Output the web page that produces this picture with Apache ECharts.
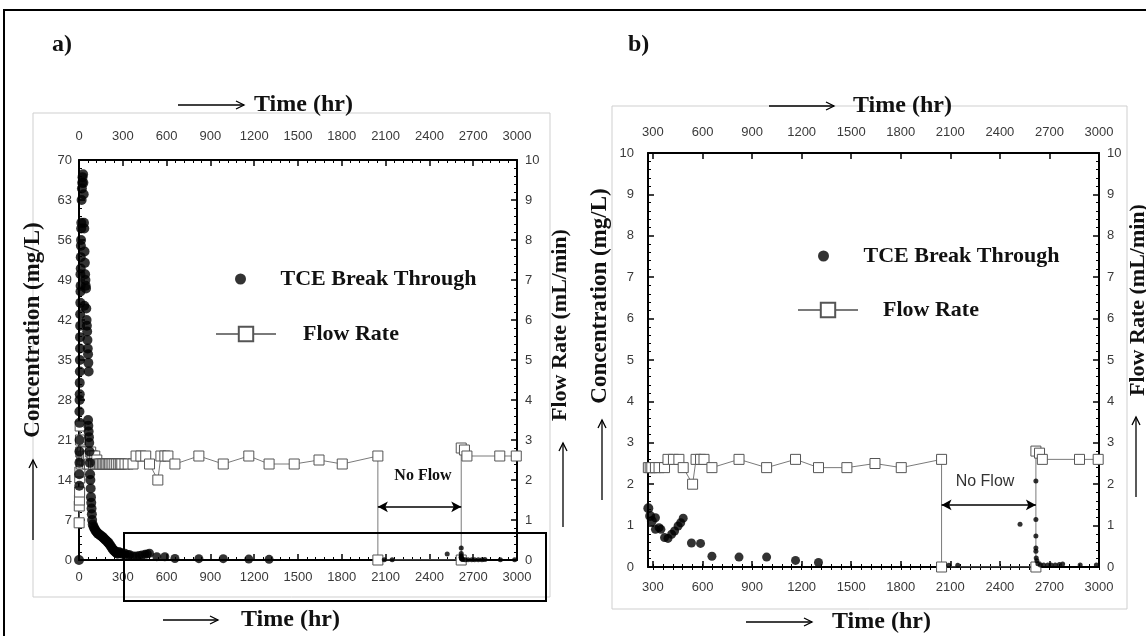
<!DOCTYPE html>
<html><head><meta charset="utf-8">
<script src="https://cdn.jsdelivr.net/npm/echarts@6/dist/echarts.min.js"></script>
<style>html,body{margin:0;padding:0;background:#fff}#c{width:1146px;height:636px}</style>
</head><body><div id="c"></div>
<script>
// ---- data ----
const tceTime = [0,2,2,3,3,4,4,3,4,5,5,6,6,7,7,8,8,9,10,11,10,12,12,13,14,15,16,18,20,22,24,28,30,32,34,36,38,40,42,44,46,48,36,50,52,54,56,58,60,62,64,66,62,64,66,68,70,72,74,76,78,80,82,84,86,88,90,94,100,106,112,118,124,130,138,146,154,162,170,178,186,194,202,210,218,226,234,242,250,258,265,
  272,283,293,315,315,337,348,370,391,413,431,452,468,483,533,588,657,821,988,1163,1302,2091,2145,2522,2618,2618,2618,2618,2618,2620,2624,2630,2645,2665,2690,2710,2735,2760,2780,2886,2984];
const tceConc = [0,13,15,17,19,21,24,26,28,29,31,33,35,37,39,41,43,45,47,48,50,51,53,55,56,58,59,63,65,66,67,67.5,66,64,59,58,54,52,50,49,48,47.5,44.5,44,42,41,40,38.5,37,36,34.5,33,24.5,23.5,22.5,21.5,20.5,19,17,15,14,12.5,11,10,9,8,7,6.2,5.8,5.5,5.2,5,4.8,4.6,4.5,4.3,4.2,4,3.8,3.6,3.4,3.2,3,2.7,2.4,2.1,1.8,1.6,1.4,1.2,1.1,
  1.42,1.23,1.11,1.19,0.91,0.95,0.91,0.71,0.69,0.79,0.87,0.99,1.07,1.18,0.58,0.57,0.26,0.24,0.24,0.16,0.11,0.04,0.04,1.03,2.08,1.15,0.75,0.46,0.38,0.22,0.15,0.08,0.05,0.05,0.05,0.05,0.05,0.06,0.07,0.05,0.05];
const flowTime = [1,2,3,4,5,6,8,10,12,15,18,22,26,30,35,40,45,50,55,60,66,72,80,88,95,100,108,115,122,130,140,150,160,170,180,190,200,210,220,232,245,258,272,283,293,315,337,370,391,424,457,483,540,561,588,609,657,821,988,1163,1302,1474,1644,1803,2047,2047,2618,2618,2640,2657,2882,2995];
const flowRate = [0.93,1.35,1.5,1.7,2.05,2.2,3.35,3.0,2.7,2.4,2.6,2.7,2.5,2.6,2.5,2.6,2.7,2.5,2.6,2.4,2.6,2.4,2.7,2.6,2.6,2.4,2.6,2.4,2.5,2.4,2.4,2.4,2.4,2.4,2.4,2.4,2.4,2.4,2.4,2.4,2.4,2.4,2.4,2.4,2.4,2.4,2.4,2.4,2.6,2.6,2.6,2.4,2.0,2.6,2.6,2.6,2.4,2.6,2.4,2.6,2.4,2.4,2.5,2.4,2.6,0,0,2.8,2.75,2.6,2.6,2.6];
const timeLabelsB = [300,600,900,1200,1500,1800,2100,2400,2700,3000];
const timeMinorB = [300,360,420,480,540,600,660,720,780,840,900,960,1020,1080,1140,1200,1260,1320,1380,1440,1500,1560,1620,1680,1740,1800,1860,1920,1980,2040,2100,2160,2220,2280,2340,2400,2460,2520,2580,2640,2700,2760,2820,2880,2940,3000];
const noFlowStart = 2047, noFlowEnd = 2618;
const noFlowLevelA = 1.33, noFlowLevelB = 1.5;
const xMinB = 270;

const tcePts = tceTime.map((t,i)=>[t,tceConc[i]]);
const flowPts = flowTime.map((t,i)=>[t,flowRate[i]]);
const tcePtsB = tcePts.filter(p=>p[0]>=xMinB);
const flowPtsB = flowPts.filter(p=>p[0]>=xMinB);

const chart = echarts.init(document.getElementById('c'), null, {renderer:'canvas'});
const SERIF = '"Liberation Serif","Times New Roman",serif';
const SANS = '"Liberation Sans",Arial,sans-serif';
const lab = (m)=>({color:'#3a3a3a', fontFamily:SANS, fontSize:13, margin:m, formatter:(v)=>String(v)});
const aLine = {show:true, onZero:false, lineStyle:{color:'#000', width:2}};
const aTick = {show:true, inside:true, length:6, lineStyle:{color:'#000', width:1.5}};
const mTick = {show:true, splitNumber:5, length:3, lineStyle:{color:'#000', width:1}};

function xAxisA(pos, margin){
  return {type:'value', gridIndex:0, position:pos, min:0, max:3000, interval:300,
    axisLine:aLine, axisTick:aTick, minorTick:mTick, splitLine:{show:false}, axisLabel:lab(margin)};
}
function xAxisB(pos, margin){
  return {type:'value', gridIndex:1, position:pos, min:xMinB, max:3000,
    axisLine:aLine, axisTick:Object.assign({}, aTick, {customValues:timeLabelsB}),
    splitLine:{show:false}, axisLabel:Object.assign(lab(margin), {customValues:timeLabelsB})};
}
function xAxisBMinor(pos){
  return {type:'value', gridIndex:1, position:pos, min:xMinB, max:3000,
    axisLine:{show:false}, axisTick:{show:true, inside:true, length:3, customValues:timeMinorB, lineStyle:{color:'#000', width:1}},
    splitLine:{show:false}, axisLabel:{show:false}};
}
function yAxis(grid, pos, max, interval, margin){
  return {type:'value', gridIndex:grid, position:pos, min:0, max:max, interval:interval,
    axisLine:aLine, axisTick:aTick, minorTick:mTick, splitLine:{show:false}, axisLabel:lab(margin)};
}

const dotSize = (v)=> v[0] < 2000 ? (v[0] < 300 ? 10 : 9) : 5;
const flowSeries = (xi, yi, data, lvl)=>({
  name:'Flow Rate', type:'line', xAxisIndex:xi, yAxisIndex:yi, data:data,
  symbol:'rect', symbolSize:10, showAllSymbol:true, z:2,
  lineStyle:{color:'#7a7a7a', width:1}, itemStyle:{color:'#fff', borderColor:'#555', borderWidth:1},
  emphasis:{disabled:true}, animation:false,
  markLine:{silent:true, symbol:['arrow','arrow'], symbolSize:[8,10], label:{show:false},
    lineStyle:{color:'#000', width:1.5, type:'solid'},
    data:[[{coord:[noFlowStart,lvl]},{coord:[noFlowEnd,lvl]}]]}
});
const tceSeries = (xi, yi, data)=>({
  name:'TCE Break Through', type:'scatter', xAxisIndex:xi, yAxisIndex:yi, data:data,
  symbol:'circle', symbolSize:dotSize, itemStyle:{color:'#000'}, z:3, animation:false
});

const legendText = {fontFamily:SERIF, fontWeight:'bold', fontSize:22, color:'#111'};
function legend(name, left, top, w, h, pad){
  return {data:[name], left:left, top:top, itemWidth:w, itemHeight:h, padding:0, selectedMode:false,
    textStyle:Object.assign({}, legendText, {padding:[0,0,0,pad]})};
}

// graphic helpers
const G = [];
function txt(x,y,t,font,rot,align,color){
  G.push({type:'text', x:x, y:y, rotation:rot||0, silent:true,
    style:{text:t, font:font, fill:color||'#111', align:align||'center', verticalAlign:'middle'}});
}
function hArrow(x1,x2,y){
  G.push({type:'line', silent:true, shape:{x1:x1,y1:y,x2:x2,y2:y}, style:{stroke:'#000', lineWidth:1.3}});
  G.push({type:'polyline', silent:true, shape:{points:[[x2-8,y-4],[x2,y],[x2-8,y+4]]}, style:{stroke:'#000', lineWidth:1.3, fill:null}});
}
function vArrow(x,y1,y2){
  G.push({type:'line', silent:true, shape:{x1:x,y1:y1,x2:x,y2:y2}, style:{stroke:'#000', lineWidth:1.3}});
  G.push({type:'polyline', silent:true, shape:{points:[[x-4,y2+8],[x,y2],[x+4,y2+8]]}, style:{stroke:'#000', lineWidth:1.3, fill:null}});
}
function rect(x,y,w,h,color,lw){
  G.push({type:'rect', silent:true, shape:{x:x,y:y,width:w,height:h}, style:{stroke:color, lineWidth:lw, fill:null}, z:-1});
}
const timeFont = 'bold 24px ' + SERIF;
const concFont = 'bold 23px ' + SERIF;
const flowFont = 'bold 22px ' + SERIF;
// frames
rect(4,10,1200,700,'#000',2);
rect(33,113,517,484,'#cfcfcf',1);
rect(612,106,515,503,'#cfcfcf',1);
G.push({type:'rect', silent:true, shape:{x:124,y:533,width:422,height:68}, style:{stroke:'#000', lineWidth:2, fill:null}, z:10});
// panel labels
txt(52,45,'a)','bold 24px '+SERIF,0,'left');
txt(628,45,'b)','bold 24px '+SERIF,0,'left');
// panel a titles
hArrow(178,244,105); txt(254,105,'Time (hr)',timeFont,0,'left');
hArrow(163,218,620); txt(241,620,'Time (hr)',timeFont,0,'left');
txt(33,330,'Concentration (mg/L)',concFont,Math.PI/2);
vArrow(33,540,460);
txt(560,325,'Flow Rate (mL/min)',flowFont,Math.PI/2);
vArrow(563,527,443);
txt(423,476,'No Flow','bold 16px '+SERIF);
// panel b titles
hArrow(769,834,106); txt(853,106,'Time (hr)',timeFont,0,'left');
hArrow(746,812,622); txt(832,622,'Time (hr)',timeFont,0,'left');
txt(600,296,'Concentration (mg/L)',concFont,Math.PI/2);
vArrow(602,500,420);
txt(1138,300,'Flow Rate (mL/min)',flowFont,Math.PI/2);
vArrow(1136,497,417);
txt(985,482,'No Flow','16px '+SANS,0,'center','#333');

chart.setOption({
  animation:false,
  backgroundColor:'#fff',
  grid:[
    {left:79, top:160, width:438, height:400},
    {left:648, top:153, width:451, height:414}
  ],
  xAxis:[ xAxisA('bottom',11), xAxisA('top',17), xAxisB('bottom',14), xAxisB('top',14), xAxisBMinor('bottom'), xAxisBMinor('top') ],
  yAxis:[ yAxis(0,'left',70,7,7), yAxis(0,'right',10,1,8), yAxis(1,'left',10,1,14), yAxis(1,'right',10,1,8) ],
  legend:[
    legend('TCE Break Through', 235, 268, 70, 11, 0),
    legend('Flow Rate', 215, 323, 60, 18, 22),
    legend('TCE Break Through', 818, 245, 70, 11, 0),
    legend('Flow Rate', 797, 299, 60, 18, 20)
  ],
  series:[
    flowSeries(0,1,flowPts,noFlowLevelA),
    tceSeries(0,0,tcePts),
    flowSeries(2,3,flowPtsB,noFlowLevelB),
    tceSeries(2,2,tcePtsB)
  ],
  graphic:G
});
</script>
</body></html>
